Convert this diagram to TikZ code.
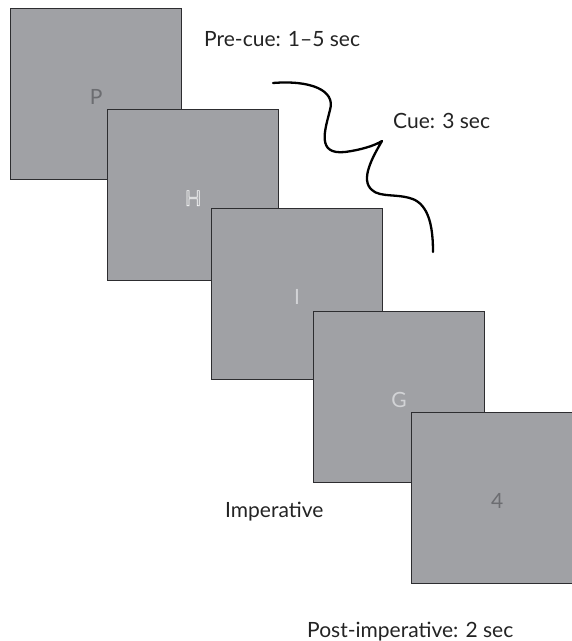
\documentclass[tikz,border=0pt]{standalone}
\usepackage{fontspec}
\setmainfont{Lato}
\definecolor{panel}{RGB}{160,161,165}
\definecolor{edge}{RGB}{45,45,48}
\definecolor{darkglyph}{RGB}{108,109,113}
\definecolor{lightglyph}{RGB}{210,211,214}
\definecolor{ink}{RGB}{35,35,35}
% stroke-only (outlined) glyphs via a raw PDF text render mode
\newcommand{\outlinedglyph}[1]{\special{pdf:code q 1 Tr 0.7 w 1 1 1 RG}#1\special{pdf:code Q}}
\tikzset{
  screen/.style={draw=edge, fill=panel, line width=1.3pt, minimum width=171pt,
    minimum height=171pt, inner sep=0pt, anchor=north west},
  glyph/.style={inner sep=0pt, font=\fontsize{21}{24}\selectfont},
  caption/.style={text=ink, font=\fontsize{21}{24}\selectfont, inner sep=0pt, anchor=base west},
  wave/.style={draw=black, line width=2.3pt, line cap=round, line join=round}
}
\begin{document}
\begin{tikzpicture}[x=1pt, y=-1pt]
\useasboundingbox (0,0) rectangle (572,641);
\clip (0,0) rectangle (572,641);
% stacked stimulus screens, each with its centred character
\node[screen] (s1) at (10,8) {};
\node[glyph, text=darkglyph] (g1) at ([yshift=-3pt]s1.center) {P};
\node[screen] (s2) at (107,109) {};
\node[glyph, text=white] (g2) at ([yshift=-3pt]s2.center) {\outlinedglyph{H}};
\node[screen] (s3) at (211,208) {};
\node[glyph, text=lightglyph] (g3) at ([yshift=-3pt]s3.center) {I};
\node[screen] (s4) at (313,311) {};
\node[glyph, text=lightglyph] (g4) at ([yshift=-3pt]s4.center) {G};
\node[screen] (s5) at (411,412) {};
\node[glyph, text=darkglyph] (g5) at ([yshift=-3pt]s5.center) {4};
% phase labels
\node[caption] (precue) at (204,46) {Pre-cue: 1–5 sec};
\node[caption] (cue) at (393,128) {Cue: 3 sec};
\node[caption] (imp) at (225,517) {Imperative};
\node[caption] (post) at (307,637) {Post-imperative: 2 sec};
% wavy cue trace
\coordinate (w0) at (273,83);
\coordinate (w6) at (433,252);
\draw[wave] (w0) .. controls (310,80) and (336,90) .. (330,110)
  .. controls (325,130) and (316,155) .. (345,152)
  .. controls (360,150) and (374,146) .. (382,141)
  .. controls (372,158) and (360,180) .. (372,190)
  .. controls (380,198) and (400,193) .. (415,200)
  .. controls (430,208) and (433,230) .. (w6);
\end{tikzpicture}
\end{document}
